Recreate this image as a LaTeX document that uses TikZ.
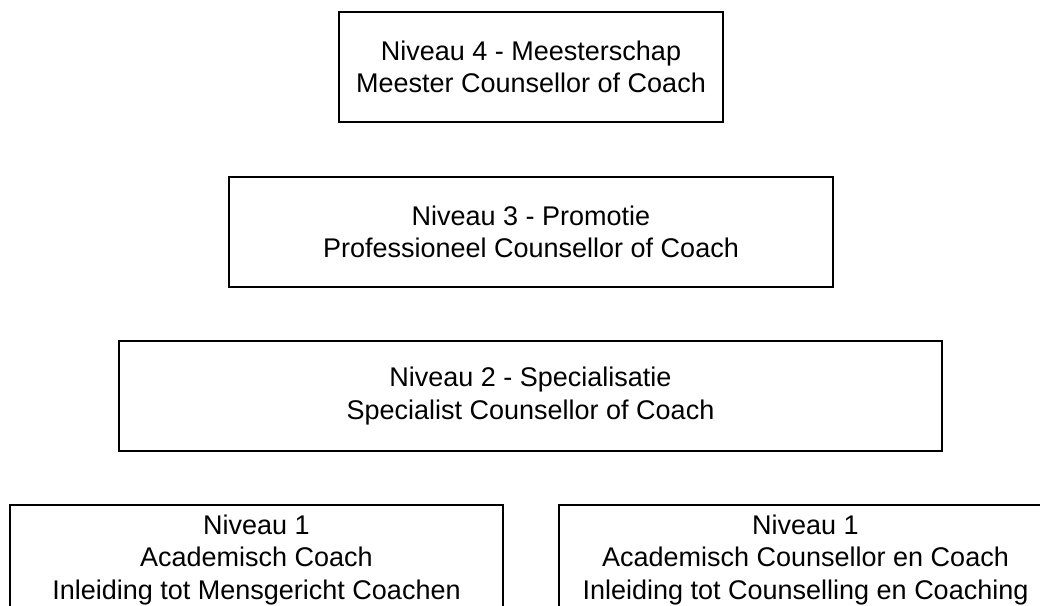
\documentclass[tikz,border=0pt]{standalone}
\usepackage{fontspec}
\setmainfont{Liberation Sans}
\usepackage{tikz}

\begin{document}
\begin{tikzpicture}[x=1pt,y=-1pt,
    niveau/.style={draw,line width=2pt,minimum height=110pt,inner sep=0pt,
      align=center,font=\fontsize{27}{32.5}\selectfont}]
      % Ram
      \clip (0,0) rectangle (1040,605);
      % Niveaus
      \node[niveau,minimum width=384pt] (n4) at (531,67)
        {Niveau 4 - Meesterschap\\Meester Counsellor of Coach};
      \node[niveau,minimum width=604pt] (n3) at (531,232)
        {Niveau 3 - Promotie\\Professioneel Counsellor of Coach};
      \node[niveau,minimum width=823pt] (n2) at (530.5,396)
        {Niveau 2 - Specialisatie\\Specialist Counsellor of Coach};
      % Niveau 1, twee routes
      \node[niveau,minimum width=493pt] (n1a) at (256.5,560)
        {Niveau 1\\Academisch Coach\\Inleiding tot Mensgericht Coachen};
      \node[niveau,minimum width=493pt] (n1b) at (805.5,560)
        {Niveau 1\\Academisch Counsellor en Coach\\Inleiding tot Counselling en Coaching};
    \end{tikzpicture}
\end{document}
